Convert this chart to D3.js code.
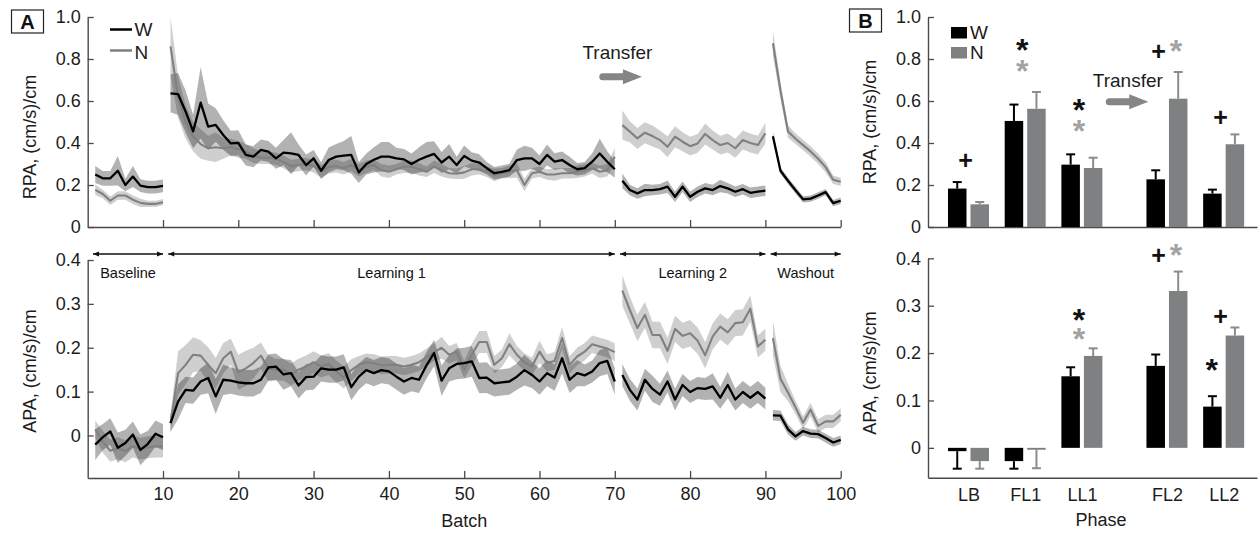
<!DOCTYPE html>
<html>
<head>
<meta charset="utf-8">
<script src="https://cdn.jsdelivr.net/npm/d3@7"></script>
<style>
  html, body { margin: 0; padding: 0; background: #fff; }
  svg text { font-family: "Liberation Sans", Arial, Helvetica, sans-serif; }
</style>
</head>
<body>
<svg id="chart" width="1258" height="533"></svg>
<script>
// ---------- Panel A: per-batch means (1..100) and shaded half-widths ----------
const phaseNames = ["Baseline", "Learning 1", "Learning 2", "Washout"];
const phaseStart = [1, 11, 71, 91];
const phaseEnd   = [10, 70, 90, 100];
const batchTicks = [10, 20, 30, 40, 50, 60, 70, 80, 90, 100];

const rpaW = [
  0.25, 0.232, 0.232, 0.268, 0.2, 0.24, 0.197, 0.19, 0.19, 0.196,
  0.636, 0.633, 0.55, 0.455, 0.592, 0.478, 0.486, 0.438, 0.398, 0.401,
  0.343, 0.335, 0.367, 0.359, 0.327, 0.354, 0.351, 0.343, 0.295, 0.327,
  0.268, 0.319, 0.335, 0.34, 0.343, 0.26, 0.3, 0.32, 0.335, 0.335,
  0.327, 0.322, 0.3, 0.32, 0.335, 0.348, 0.307, 0.335, 0.295, 0.338,
  0.316, 0.307, 0.28, 0.256, 0.263, 0.271, 0.319, 0.327, 0.327, 0.3,
  0.343, 0.311, 0.319, 0.295, 0.275, 0.28, 0.311, 0.35, 0.311, 0.275,
  0.22, 0.176, 0.16, 0.176, 0.176, 0.18, 0.192, 0.144, 0.192, 0.144,
  0.168, 0.184, 0.176, 0.195, 0.184, 0.168, 0.18, 0.163, 0.168, 0.173,
  0.432, 0.268, 0.22, 0.175, 0.132, 0.135, 0.15, 0.166, 0.114, 0.125
];
const rpaN = [
  0.177, 0.157, 0.125, 0.15, 0.15, 0.13, 0.115, 0.11, 0.11, 0.118,
  0.86, 0.62, 0.5, 0.43, 0.395, 0.375, 0.38, 0.375, 0.38, 0.37,
  0.36, 0.34, 0.33, 0.33, 0.325, 0.31, 0.29, 0.295, 0.3, 0.29,
  0.265, 0.285, 0.29, 0.28, 0.295, 0.27, 0.287, 0.295, 0.27, 0.263,
  0.275, 0.287, 0.287, 0.275, 0.263, 0.287, 0.27, 0.256, 0.254, 0.26,
  0.275, 0.275, 0.263, 0.248, 0.256, 0.263, 0.27, 0.2, 0.256, 0.263,
  0.25, 0.25, 0.256, 0.256, 0.263, 0.27, 0.28, 0.263, 0.27, 0.335,
  0.485, 0.454, 0.422, 0.449, 0.433, 0.414, 0.382, 0.43, 0.406, 0.385,
  0.398, 0.443, 0.414, 0.39, 0.4, 0.375, 0.414, 0.4, 0.39, 0.446,
  0.875, 0.65, 0.455, 0.42, 0.39, 0.36, 0.325, 0.285, 0.225, 0.215
];
const rpaWse = [
  0.04, 0.035, 0.035, 0.07, 0.03, 0.05, 0.03, 0.03, 0.03, 0.03,
  0.09, 0.1, 0.1, 0.08, 0.17, 0.11, 0.08, 0.07, 0.06, 0.06,
  0.05, 0.05, 0.05, 0.05, 0.05, 0.06, 0.1, 0.05, 0.05, 0.04,
  0.04, 0.06, 0.06, 0.07, 0.09, 0.05, 0.05, 0.06, 0.07, 0.07,
  0.05, 0.05, 0.05, 0.06, 0.07, 0.06, 0.05, 0.06, 0.04, 0.05,
  0.04, 0.04, 0.03, 0.03, 0.03, 0.03, 0.05, 0.06, 0.05, 0.04,
  0.05, 0.04, 0.04, 0.04, 0.03, 0.03, 0.04, 0.07, 0.05, 0.04,
  0.035, 0.025, 0.025, 0.03, 0.025, 0.025, 0.03, 0.025, 0.025, 0.025,
  0.025, 0.025, 0.025, 0.03, 0.025, 0.025, 0.025, 0.025, 0.025, 0.025,
  0.02, 0.015, 0.015, 0.015, 0.015, 0.015, 0.015, 0.015, 0.015, 0.015
];
const rpaNse = [
  0.025, 0.02, 0.02, 0.02, 0.02, 0.02, 0.02, 0.015, 0.015, 0.015,
  0.14, 0.1, 0.08, 0.07, 0.07, 0.06, 0.07, 0.05, 0.04, 0.04,
  0.035, 0.035, 0.03, 0.03, 0.03, 0.03, 0.03, 0.03, 0.03, 0.03,
  0.03, 0.03, 0.03, 0.03, 0.03, 0.03, 0.03, 0.025, 0.03, 0.03,
  0.025, 0.03, 0.03, 0.03, 0.025, 0.03, 0.03, 0.025, 0.025, 0.03,
  0.03, 0.025, 0.025, 0.03, 0.025, 0.03, 0.035, 0.03, 0.025, 0.025,
  0.025, 0.03, 0.025, 0.025, 0.03, 0.03, 0.025, 0.03, 0.03, 0.04,
  0.07, 0.05, 0.05, 0.05, 0.05, 0.045, 0.05, 0.05, 0.045, 0.045,
  0.045, 0.05, 0.045, 0.045, 0.045, 0.045, 0.045, 0.045, 0.045, 0.05,
  0.06, 0.04, 0.03, 0.025, 0.025, 0.025, 0.025, 0.025, 0.02, 0.02
];
const apaW = [
  -0.021, -0.004, 0.009, -0.028, -0.017, 0.002, -0.033, -0.019, 0.004, -0.004,
  0.028, 0.077, 0.104, 0.102, 0.123, 0.131, 0.089, 0.127, 0.125, 0.121,
  0.119, 0.119, 0.127, 0.155, 0.157, 0.139, 0.142, 0.114, 0.133, 0.134,
  0.153, 0.15, 0.15, 0.155, 0.11, 0.134, 0.149, 0.142, 0.149, 0.146,
  0.134, 0.123, 0.131, 0.127, 0.16, 0.188, 0.125, 0.153, 0.163, 0.165,
  0.169, 0.131, 0.132, 0.119, 0.121, 0.123, 0.134, 0.149, 0.138, 0.123,
  0.142, 0.132, 0.176, 0.127, 0.142, 0.137, 0.146, 0.165, 0.17, 0.123,
  0.138, 0.104, 0.082, 0.127, 0.106, 0.093, 0.123, 0.082, 0.115, 0.099,
  0.108, 0.106, 0.112, 0.086, 0.115, 0.082, 0.099, 0.086, 0.099, 0.084,
  0.046, 0.045, 0.014, -0.002, 0.01, 0.004, 0.003, -0.006, -0.016, -0.01
];
const apaN = [
  0.014, -0.014, -0.035, -0.029, -0.036, -0.025, -0.03, -0.027, -0.025, -0.025,
  0.028, 0.142, 0.161, 0.184, 0.182, 0.161, 0.142, 0.176, 0.191, 0.144,
  0.153, 0.165, 0.182, 0.153, 0.15, 0.15, 0.139, 0.15, 0.157, 0.167,
  0.157, 0.163, 0.146, 0.132, 0.149, 0.161, 0.167, 0.165, 0.16, 0.161,
  0.161, 0.157, 0.161, 0.167, 0.178, 0.19, 0.2, 0.184, 0.191, 0.15,
  0.184, 0.213, 0.213, 0.161, 0.176, 0.208, 0.184, 0.167, 0.157, 0.191,
  0.165, 0.17, 0.222, 0.161, 0.18, 0.191, 0.208, 0.203, 0.198, 0.19,
  0.33, 0.286, 0.245, 0.275, 0.229, 0.229, 0.193, 0.243, 0.227, 0.233,
  0.216, 0.183, 0.226, 0.248, 0.235, 0.256, 0.258, 0.289, 0.203, 0.218,
  0.222, 0.129, 0.098, 0.064, 0.029, 0.059, 0.022, 0.032, 0.032, 0.047
];
const apaWse = [
  0.035, 0.03, 0.03, 0.035, 0.03, 0.03, 0.035, 0.03, 0.03, 0.03,
  0.02, 0.04, 0.03, 0.03, 0.03, 0.035, 0.04, 0.035, 0.03, 0.03,
  0.03, 0.03, 0.03, 0.03, 0.03, 0.035, 0.03, 0.03, 0.03, 0.03,
  0.03, 0.03, 0.03, 0.03, 0.03, 0.03, 0.03, 0.03, 0.03, 0.03,
  0.03, 0.03, 0.03, 0.03, 0.03, 0.03, 0.035, 0.03, 0.035, 0.035,
  0.035, 0.035, 0.035, 0.03, 0.03, 0.03, 0.03, 0.035, 0.03, 0.03,
  0.03, 0.03, 0.035, 0.03, 0.03, 0.025, 0.025, 0.03, 0.03, 0.03,
  0.025, 0.025, 0.025, 0.025, 0.03, 0.025, 0.025, 0.025, 0.025, 0.025,
  0.025, 0.025, 0.03, 0.025, 0.03, 0.025, 0.025, 0.025, 0.025, 0.025,
  0.012, 0.012, 0.012, 0.01, 0.01, 0.01, 0.01, 0.01, 0.01, 0.01
];
const apaNse = [
  0.02, 0.025, 0.025, 0.025, 0.025, 0.025, 0.025, 0.025, 0.025, 0.025,
  0.02, 0.05, 0.045, 0.04, 0.035, 0.04, 0.035, 0.035, 0.03, 0.04,
  0.04, 0.035, 0.03, 0.03, 0.025, 0.025, 0.025, 0.025, 0.025, 0.025,
  0.025, 0.025, 0.025, 0.025, 0.025, 0.02, 0.02, 0.02, 0.02, 0.02,
  0.02, 0.02, 0.02, 0.02, 0.02, 0.02, 0.025, 0.02, 0.02, 0.02,
  0.025, 0.025, 0.025, 0.02, 0.02, 0.025, 0.02, 0.02, 0.02, 0.025,
  0.02, 0.02, 0.025, 0.02, 0.02, 0.02, 0.02, 0.02, 0.02, 0.02,
  0.035, 0.03, 0.03, 0.03, 0.03, 0.03, 0.03, 0.03, 0.03, 0.03,
  0.03, 0.03, 0.03, 0.03, 0.03, 0.03, 0.03, 0.03, 0.025, 0.025,
  0.04, 0.03, 0.02, 0.015, 0.015, 0.015, 0.015, 0.015, 0.015, 0.015
];

// ---------- Panel B: phase means with error bars ----------
const phaseCats = ["LB", "FL1", "LL1", "FL2", "LL2"];
const rpaBarW = [0.183, 0.505, 0.297, 0.227, 0.159];
const rpaErrW = [0.031, 0.078, 0.049, 0.043, 0.019];
const rpaBarN = [0.108, 0.563, 0.281, 0.611, 0.394];
const rpaErrN = [0.011, 0.080, 0.049, 0.127, 0.047];
const apaBarW = [-0.007, -0.028, 0.151, 0.173, 0.087];
const apaErrW = [0.037, 0.016, 0.019, 0.024, 0.022];
const apaBarN = [-0.028, -0.004, 0.194, 0.331, 0.237];
const apaErrN = [0.016, 0.039, 0.016, 0.041, 0.017];

// significance marks: [category, level, glyph, series]
const rpaMarks = [
  ["LB", 0.32, "+", "W"], ["FL1", 0.843, "*", "W"], ["FL1", 0.743, "*", "N"],
  ["LL1", 0.557, "*", "W"], ["LL1", 0.457, "*", "N"],
  ["FL2", 0.838, "+", "W"], ["FL2", 0.838, "*", "N"], ["LL2", 0.524, "+", "W"]
];
const apaMarks = [
  ["LL1", 0.27, "*", "W"], ["LL1", 0.23, "*", "N"],
  ["FL2", 0.407, "+", "W"], ["FL2", 0.407, "*", "N"],
  ["LL2", 0.278, "+", "W"], ["LL2", 0.164, "*", "W"]
];

// ---------- drawing ----------
const svg = d3.select("#chart");
const AX = "#4a4a4a", TXT = "#1c1c1c";
const W_COL = "#000000", N_COL = "#808080";
const BAR_N = "#7f8082", ERR_N = "#8c8c8c";
const MARK_N = "#a3a3a3";

const xA = d3.scaleLinear().domain([0, 100]).range([87.7, 840.7]);
const yAtop = d3.scaleLinear().domain([0, 1]).range([227, 17]);
const yAbot = d3.scaleLinear().domain([-0.097, 0.4]).range([478, 260]);

const slotOf = i => i + 1 + (i >= 3 ? 0.5 : 0);
const xB = d3.scaleLinear().domain([0.286, 6.088]).range([928, 1257]);
const yBtop = d3.scaleLinear().domain([0, 1]).range([227, 17]);
const yBbot = d3.scaleLinear().domain([-0.063, 0.4]).range([477.7, 258.3]);

const fmtTick = d => d === 0 ? "0" : d3.format(".1f")(d);

function styleAxis(g) {
  g.attr("font-size", 18).attr("color", AX)
   .attr("font-family", '"Liberation Sans", Arial, sans-serif');
  g.select(".domain").attr("stroke-width", 1.4);
  g.selectAll(".tick line").attr("stroke-width", 1.3);
  g.selectAll(".tick text").attr("fill", TXT);
}
function drawYAxis(scale, ticks, x) {
  const g = svg.append("g").attr("transform", `translate(${x},0)`)
    .call(d3.axisLeft(scale).tickValues(ticks).tickFormat(fmtTick)
      .tickSizeInner(-6).tickSizeOuter(0).tickPadding(7));
  styleAxis(g);
  return g;
}
function drawXAxis(y, axis) {
  const g = svg.append("g").attr("transform", `translate(0,${y})`).call(axis);
  styleAxis(g);
  return g;
}

// ---- Panel A axes
drawYAxis(yAtop, [0, 0.2, 0.4, 0.6, 0.8, 1.0], xA(0));
drawYAxis(yAbot, [0, 0.1, 0.2, 0.3, 0.4], xA(0));
drawXAxis(yAtop(0), d3.axisBottom(xA).tickValues(batchTicks).tickFormat("")
  .tickSizeInner(-7).tickSizeOuter(0));
drawXAxis(yAbot.range()[0], d3.axisBottom(xA).tickValues(batchTicks)
  .tickSizeInner(-7).tickSizeOuter(0).tickPadding(9));

// ---- Panel A series (one path per phase, so lines break between phases)
function drawSeries(y, mean, se, color, bandOpacity, lineW, layer) {
  phaseStart.forEach((s, k) => {
    const idx = d3.range(s - 1, phaseEnd[k]);
    if (layer === "band") {
      const area = d3.area().x(i => xA(i + 1))
        .y0(i => y(mean[i] - se[i])).y1(i => y(mean[i] + se[i]));
      svg.append("path").attr("d", area(idx))
        .attr("fill", "#000").attr("fill-opacity", bandOpacity);
    } else {
      const line = d3.line().x(i => xA(i + 1)).y(i => y(mean[i]));
      svg.append("path").attr("d", line(idx)).attr("fill", "none")
        .attr("stroke", color).attr("stroke-width", lineW)
        .attr("stroke-linejoin", "round");
    }
  });
}
[[yAtop, rpaW, rpaWse, rpaN, rpaNse], [yAbot, apaW, apaWse, apaN, apaNse]]
  .forEach(([y, mW, sW, mN, sN]) => {
    drawSeries(y, mN, sN, N_COL, 0.19, 2, "band");
    drawSeries(y, mW, sW, W_COL, 0.3, 2, "band");
    drawSeries(y, mN, sN, N_COL, 0, 2.1, "line");
    drawSeries(y, mW, sW, W_COL, 0, 2.3, "line");
  });

// ---- Panel A legend
const legA = [["W", W_COL, 29.5, 35.5], ["N", N_COL, 50.5, 59]];
legA.forEach(([t, c, ly, ty]) => {
  svg.append("line").attr("x1", 110).attr("x2", 132).attr("y1", ly).attr("y2", ly)
    .attr("stroke", c).attr("stroke-width", 2.5);
  svg.append("text").attr("x", 134.5).attr("y", ty).attr("font-size", 19)
    .attr("fill", TXT).text(t);
});

// ---- Phase arrows
const defs = svg.append("defs");
defs.append("marker").attr("id", "ah").attr("viewBox", "0 0 10 10")
  .attr("refX", 10).attr("refY", 5).attr("markerWidth", 7).attr("markerHeight", 6)
  .attr("markerUnits", "userSpaceOnUse").attr("orient", "auto-start-reverse")
  .append("path").attr("d", "M0,0.8L10,5L0,9.2Z").attr("fill", "#111");
const arrowY = 254;
phaseNames.forEach((name, k) => {
  const x0 = xA(phaseStart[k] - 0.3), x1 = xA(phaseEnd[k]);
  svg.append("line").attr("x1", x0).attr("x2", x1).attr("y1", arrowY).attr("y2", arrowY)
    .attr("stroke", "#111").attr("stroke-width", 1.6)
    .attr("marker-start", "url(#ah)").attr("marker-end", "url(#ah)");
  svg.append("text").attr("x", (x0 + x1) / 2).attr("y", 278).attr("text-anchor", "middle")
    .attr("font-size", 14.5).attr("fill", "#111").text(name);
});

// ---- Transfer annotations
function transferArrow(xs, xe, y) {
  svg.append("line").attr("x1", xs + 3).attr("x2", xe - 14).attr("y1", y).attr("y2", y)
    .attr("stroke", "#858585").attr("stroke-width", 7).attr("stroke-linecap", "round");
  svg.append("path")
    .attr("d", d3.line()([[xe - 19, y - 7.5], [xe, y], [xe - 19, y + 7.5]]) + "Z")
    .attr("fill", "#858585");
}
function transferLabel(xc, yb) {
  svg.append("text").attr("x", xc).attr("y", yb).attr("text-anchor", "middle")
    .attr("font-size", 19).attr("fill", TXT).text("Transfer");
}
transferLabel(xA(70.35), yAtop(0.8));
transferArrow(xA(68.0), xA(73.6), yAtop(0.716));
transferLabel(xB(3.81), yBtop(0.667));
transferArrow(xB(3.43), xB(4.17), yBtop(0.597));

// ---- Panel B axes
drawYAxis(yBtop, [0, 0.2, 0.4, 0.6, 0.8, 1.0], xB.range()[0]);
drawYAxis(yBbot, [0, 0.1, 0.2, 0.3, 0.4], xB.range()[0]);
drawXAxis(yBtop(0), d3.axisBottom(xB).tickValues([]).tickSizeOuter(0));
drawXAxis(yBbot.range()[0],
  d3.axisBottom(xB).tickValues(phaseCats.map((c, i) => slotOf(i)))
    .tickFormat((d, i) => phaseCats[i]).tickSize(0).tickPadding(11).tickSizeOuter(0));

// ---- Panel B bars with error bars
const barW = 18.5;
const centerOf = c => xB(slotOf(phaseCats.indexOf(c)));
function drawBars(y, vW, eW, vN, eN) {
  const g = svg.append("g");
  const sets = [[vW, eW, W_COL, W_COL, -20.5], [vN, eN, BAR_N, ERR_N, 2]];
  sets.forEach(([vals, errs, fill, ecol, off]) => {
    vals.forEach((v, i) => {
      const x0 = xB(slotOf(i)) + off;
      const xm = x0 + barW / 2;
      const tip = v >= 0 ? v + errs[i] : v - errs[i];
      g.append("line").attr("x1", xm).attr("x2", xm).attr("y1", y(v)).attr("y2", y(tip))
        .attr("stroke", ecol).attr("stroke-width", 2);
      g.append("line").attr("x1", xm - 4.5).attr("x2", xm + 4.5).attr("y1", y(tip)).attr("y2", y(tip))
        .attr("stroke", ecol).attr("stroke-width", 2);
      g.append("rect").attr("x", x0).attr("width", barW)
        .attr("y", Math.min(y(v), y(0))).attr("height", Math.max(Math.abs(y(v) - y(0)), 1.5))
        .attr("fill", fill);
    });
  });
}
drawBars(yBtop, rpaBarW, rpaErrW, rpaBarN, rpaErrN);
drawBars(yBbot, apaBarW, apaErrW, apaBarN, apaErrN);

// ---- significance marks, each glyph centred on its point
function drawMarks(y, marks) {
  marks.forEach(([cat, level, glyph, series]) => {
    const c = centerOf(cat);
    const pair = marks.some(m => m[0] === cat && m[1] === level && m[3] !== series);
    let cx;
    if (pair) cx = series === "W" ? c - 8.5 : c + 9;
    else if (glyph === "*" && series === "W" && marks.some(m => m[0] === cat && m[2] === "+"))
      cx = c - 12;
    else cx = c - 3;
    const t = svg.append("text").attr("x", 0).attr("y", 0).attr("text-anchor", "middle")
      .attr("font-weight", "bold").attr("font-size", glyph === "*" ? 32 : 25)
      .attr("fill", series === "W" ? "#111" : MARK_N).text(glyph);
    const bb = t.node().getBBox();
    t.attr("transform", `translate(${cx},${y(level) - (bb.y + bb.height / 2)})`);
  });
}
drawMarks(yBtop, rpaMarks);
drawMarks(yBbot, apaMarks);

// ---- Panel B legend
[["W", W_COL, 27], ["N", BAR_N, 47]].forEach(([t, c, y]) => {
  svg.append("rect").attr("x", 951).attr("y", y).attr("width", 16).attr("height", 11.5).attr("fill", c);
  svg.append("text").attr("x", 970).attr("y", y + 11.8).attr("font-size", 19)
    .attr("fill", TXT).text(t);
});

// ---- axis titles
function yTitle(x, yc, text) {
  svg.append("text").attr("transform", `translate(${x},${yc}) rotate(-90)`)
    .attr("text-anchor", "middle").attr("font-size", 18).attr("fill", TXT).text(text);
}
yTitle(36, 137, "RPA, (cm/s)/cm");
yTitle(36, 371, "APA, (cm/s)/cm");
yTitle(876, 122, "RPA, (cm/s)/cm");
yTitle(876, 373, "APA, (cm/s)/cm");
svg.append("text").attr("x", (xA.range()[0] + xA.range()[1]) / 2).attr("y", 527)
  .attr("text-anchor", "middle").attr("font-size", 18).attr("fill", TXT).text("Batch");
svg.append("text").attr("x", 1101).attr("y", 526)
  .attr("text-anchor", "middle").attr("font-size", 18).attr("fill", TXT).text("Phase");

// ---- panel letters
[["A", 11.5, 10], ["B", 849.5, 9]].forEach(([t, x, y]) => {
  svg.append("rect").attr("x", x).attr("y", y).attr("width", 32).attr("height", 23)
    .attr("fill", "#fff").attr("stroke", "#222").attr("stroke-width", 1.2);
  svg.append("text").attr("x", x + 16).attr("y", y + 19).attr("text-anchor", "middle")
    .attr("font-size", 20).attr("font-weight", "bold").attr("fill", "#111").text(t);
});
</script>
</body>
</html>
